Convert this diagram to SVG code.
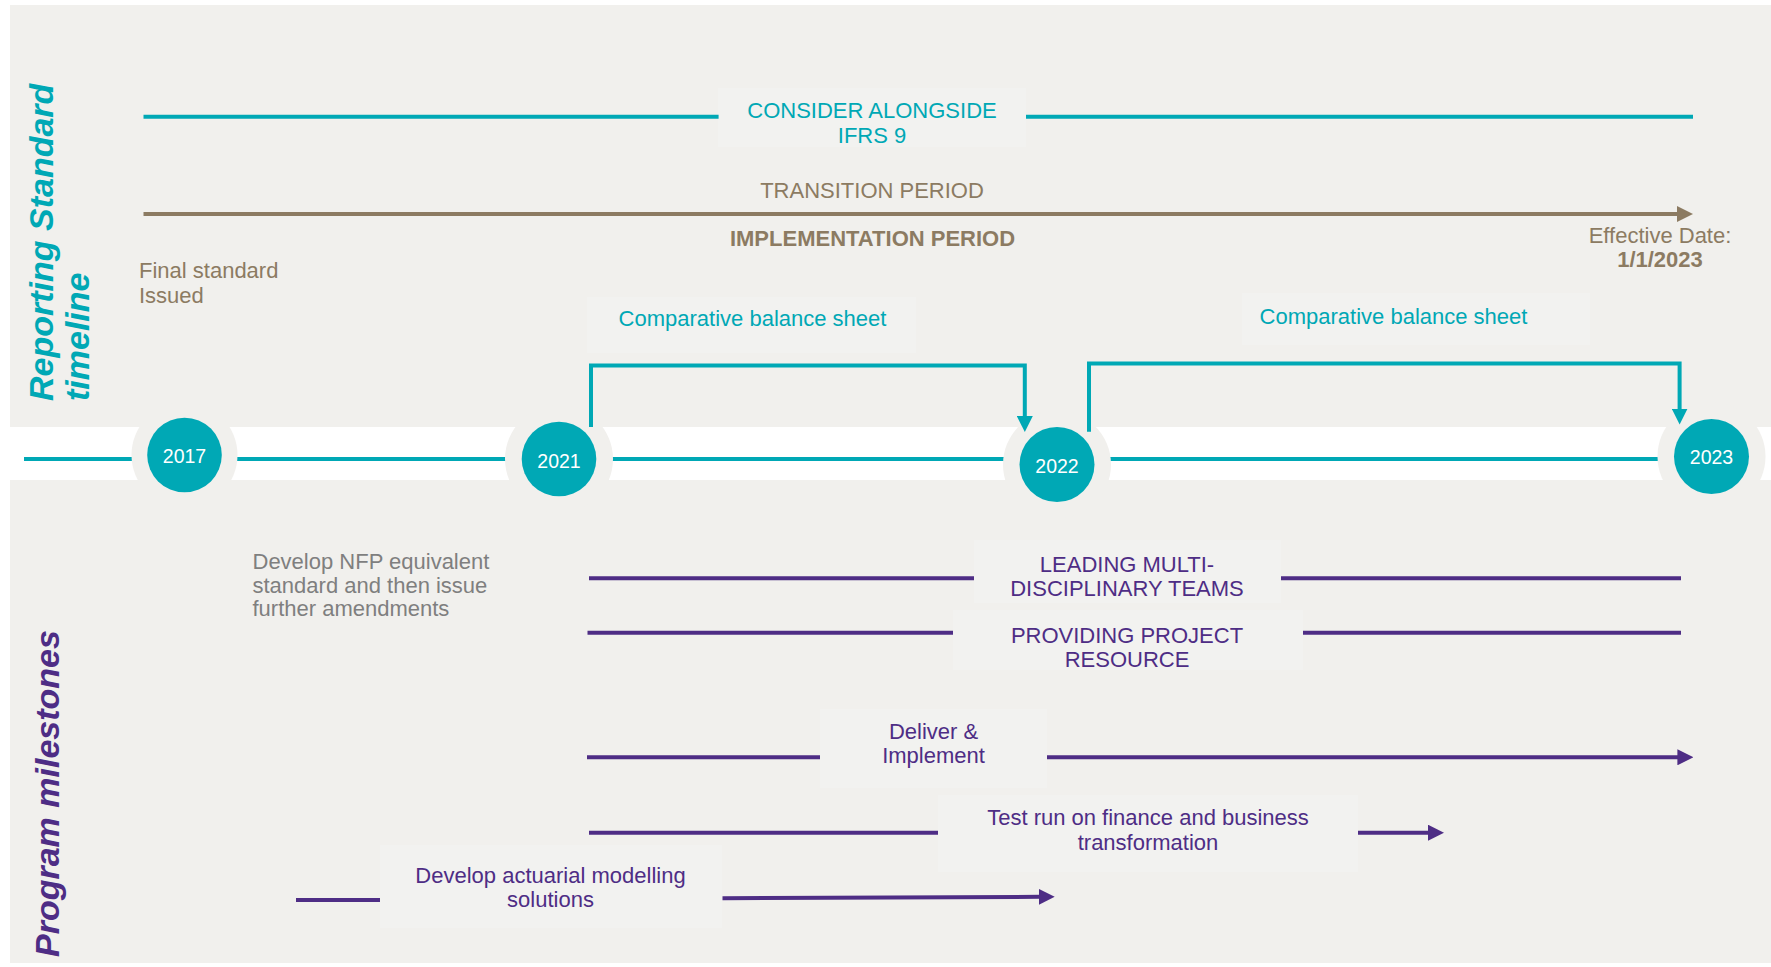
<svg xmlns="http://www.w3.org/2000/svg" width="1771" height="967" viewBox="0 0 1771 967">
<style>
text{font-family:"Liberation Sans",Arial,sans-serif;font-size:22px}
.teal{fill:#00A8B5}
.brown{fill:#8C7B62}
.purple{fill:#4E2D85}
.grey{fill:#7F7F7F}
.yr{fill:#FFFFFF;font-size:19.5px;text-anchor:middle}
.mid{text-anchor:middle}
.vlab{font-size:34px;font-weight:bold;font-style:italic}
.box{fill:#F2F2F0}
.tl{stroke:#00A8B5;stroke-width:4;fill:none}
.bl{stroke:#8C7B62;stroke-width:4;fill:none}
.pl{stroke:#4E2D85;stroke-width:4;fill:none}
.halo{fill:#F1F0ED}
.dot{fill:#00A8B5}
</style>
<defs>
<marker id="ahT" markerUnits="userSpaceOnUse" markerWidth="16" markerHeight="16" refX="2" refY="8" orient="auto"><path d="M0,0 L16,8 L0,16 z" fill="#00A8B5"/></marker>
<marker id="ahB" markerUnits="userSpaceOnUse" markerWidth="16" markerHeight="16" refX="2" refY="8" orient="auto"><path d="M0,0 L16,8 L0,16 z" fill="#8C7B62"/></marker>
<marker id="ahP" markerUnits="userSpaceOnUse" markerWidth="16" markerHeight="16" refX="2" refY="8" orient="auto"><path d="M0,0 L16,8 L0,16 z" fill="#4E2D85"/></marker>
</defs>
<rect x="0" y="0" width="1771" height="967" fill="#FFFFFF"/>
<rect x="10" y="5" width="1761" height="958" fill="#F1F0ED"/>
<rect x="10" y="427" width="1761" height="53" fill="#FFFFFF"/>

<g id="side-labels">
<text class="teal vlab" transform="translate(52.5,401) rotate(-90)">Reporting Standard</text>
<text class="teal vlab" transform="translate(89,401) rotate(-90)">timeline</text>
<text class="purple vlab" transform="translate(59,957) rotate(-90)">Program milestones</text>
</g>

<g id="label-boxes">
<rect class="box" x="718" y="88" width="308" height="59"/>
<rect class="box" x="587" y="297" width="329" height="56"/>
<rect class="box" x="1242" y="293" width="348" height="52"/>
<rect class="box" x="974" y="540" width="307" height="63"/>
<rect class="box" x="953" y="610" width="350" height="60"/>
<rect class="box" x="820" y="709" width="227" height="79"/>
<rect class="box" x="938" y="795" width="420" height="77"/>
<rect class="box" x="380" y="845" width="342" height="83"/>
</g>

<g id="timeline-axis">
<line class="tl" x1="24" y1="459" x2="1658" y2="459" stroke-width="3.5"/>
</g>

<g id="node-2017">
<circle class="halo" cx="184.5" cy="455" r="53"/>
<circle class="dot" cx="184.5" cy="455" r="37.3"/>
<text class="yr" x="184.5" y="462.5">2017</text>
</g>
<g id="node-2021">
<circle class="halo" cx="559" cy="459" r="54"/>
<circle class="dot" cx="559" cy="459" r="37.3"/>
<text class="yr" x="559" y="468.3">2021</text>
</g>
<g id="node-2022">
<circle class="halo" cx="1057" cy="464.5" r="54"/>
<circle class="dot" cx="1057" cy="464.5" r="37.5"/>
<text class="yr" x="1057" y="472.7">2022</text>
</g>
<g id="node-2023">
<circle class="halo" cx="1711.5" cy="456.5" r="54"/>
<circle class="dot" cx="1711.5" cy="456.5" r="37.5"/>
<text class="yr" x="1711.5" y="464.3">2023</text>
</g>

<g id="connectors">
<line class="tl" x1="143.5" y1="116.7" x2="718.6" y2="116.7"/>
<line class="tl" x1="1026" y1="116.7" x2="1693" y2="116.7"/>
<line class="bl" x1="143.5" y1="214" x2="1679" y2="214" marker-end="url(#ahB)"/>
<path class="tl" stroke-width="3.5" d="M591,427 V365.5 H1024.8 V418" marker-end="url(#ahT)"/>
<path class="tl" stroke-width="3.5" d="M1089,431.7 V363.5 H1679.6 V410.5" marker-end="url(#ahT)"/>
<line class="pl" x1="589" y1="578.3" x2="974" y2="578.3"/>
<line class="pl" x1="1281" y1="578.3" x2="1681" y2="578.3"/>
<line class="pl" x1="587.5" y1="632.7" x2="953" y2="632.7"/>
<line class="pl" x1="1303" y1="632.7" x2="1681" y2="632.7"/>
<line class="pl" x1="587" y1="757.3" x2="820" y2="757.3"/>
<line class="pl" x1="1047" y1="757.3" x2="1679.4" y2="757.3" marker-end="url(#ahP)"/>
<line class="pl" x1="589" y1="832.7" x2="938" y2="832.7"/>
<line class="pl" x1="1358" y1="832.7" x2="1430" y2="832.7" marker-end="url(#ahP)"/>
<line class="pl" x1="296" y1="900" x2="380" y2="900"/>
<line class="pl" x1="722.5" y1="898.3" x2="1040.7" y2="896.8" marker-end="url(#ahP)"/>
</g>

<g id="label-consider">
<text class="teal mid" x="872" y="118">CONSIDER ALONGSIDE</text>
<text class="teal mid" x="872" y="143">IFRS 9</text>
</g>
<g id="label-transition">
<text class="brown mid" x="872" y="197.5">TRANSITION PERIOD</text>
<text class="brown mid" x="872.5" y="246" font-weight="bold">IMPLEMENTATION PERIOD</text>
</g>
<g id="label-final">
<text class="brown" x="139" y="278.3">Final standard</text>
<text class="brown" x="139" y="303.3">Issued</text>
</g>
<g id="label-effective">
<text class="brown mid" x="1660" y="243.3">Effective Date:</text>
<text class="brown mid" x="1660" y="267.3" font-weight="bold">1/1/2023</text>
</g>
<g id="label-comp-1">
<text class="teal mid" x="752.5" y="326">Comparative balance sheet</text>
</g>
<g id="label-comp-2">
<text class="teal mid" x="1393.5" y="324">Comparative balance sheet</text>
</g>
<g id="label-nfp">
<text class="grey" x="252.5" y="569">Develop NFP equivalent</text>
<text class="grey" x="252.5" y="592.5">standard and then issue</text>
<text class="grey" x="252.5" y="616">further amendments</text>
</g>
<g id="label-leading">
<text class="purple mid" x="1127" y="571.7">LEADING MULTI-</text>
<text class="purple mid" x="1127" y="595.7">DISCIPLINARY TEAMS</text>
</g>
<g id="label-providing">
<text class="purple mid" x="1127" y="643">PROVIDING PROJECT</text>
<text class="purple mid" x="1127" y="667">RESOURCE</text>
</g>
<g id="label-deliver">
<text class="purple mid" x="933.5" y="739.3">Deliver &amp;</text>
<text class="purple mid" x="933.5" y="763.3">Implement</text>
</g>
<g id="label-test">
<text class="purple mid" x="1148" y="825">Test run on finance and business</text>
<text class="purple mid" x="1148" y="850">transformation</text>
</g>
<g id="label-actuarial">
<text class="purple mid" x="550.5" y="883.3">Develop actuarial modelling</text>
<text class="purple mid" x="550.5" y="907.3">solutions</text>
</g>
</svg>
